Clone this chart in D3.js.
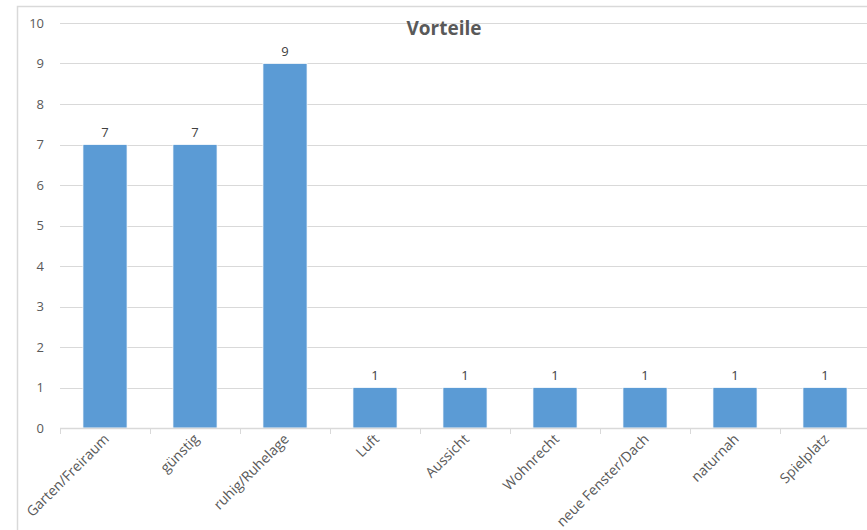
<!DOCTYPE html>
<html>
<head>
<meta charset="utf-8">
<script src="https://cdn.jsdelivr.net/npm/d3@7"></script>
<style>
body { margin:0; background:#fff; }
svg { display:block; font-family:"Open Sans", Calibri, sans-serif; }
</style>
</head>
<body>
<svg id="graph"></svg>
<script>
var categories = ["Garten/Freiraum","günstig","ruhig/Ruhelage","Luft","Aussicht","Wohnrecht","neue Fenster/Dach","naturnah","Spielplatz"];
var values = [7,7,9,1,1,1,1,1,1];
var yTicks = [0,1,2,3,4,5,6,7,8,9,10];
var title = "Vorteile";

var screen = {width:867, height:530};
var margins = {top:23, bottom:102, left:60, right:-3};
var graph = {
    width:screen.width-margins.left-margins.right,
    height:screen.height-margins.top-margins.bottom
};

var svg = d3.select("#graph")
    .attr("width",screen.width)
    .attr("height",screen.height);

// chart area frame (cropped on the right/bottom)
svg.append("path")
    .attr("d","M17.5,"+screen.height+"V6.5H"+screen.width)
    .attr("fill","none")
    .attr("stroke","#d9d9d9")
    .attr("stroke-width",1.5);

var xScale = d3.scaleBand()
    .domain(categories)
    .range([0,graph.width])
    .paddingInner(0.51)
    .paddingOuter(0.255);

var yScale = d3.scaleLinear()
    .domain([0,10])
    .range([graph.height,0]);

var g = svg.append("g")
    .attr("transform","translate("+margins.left+","+margins.top+")");

// gridlines
g.append("g")
    .selectAll("line")
    .data(yTicks.filter(function(t){return t>0;}))
    .enter()
    .append("line")
    .attr("x1",0)
    .attr("x2",graph.width)
    .attr("y1",function(t){return Math.round(yScale(t))+0.5;})
    .attr("y2",function(t){return Math.round(yScale(t))+0.5;})
    .attr("stroke","#d9d9d9")
    .attr("stroke-width",1);

// y labels
g.append("g")
    .selectAll("text")
    .data(yTicks)
    .enter()
    .append("text")
    .attr("x",-16)
    .attr("y",function(t){return yScale(t);})
    .attr("dy","0.35em")
    .attr("text-anchor","end")
    .attr("fill","#595959")
    .attr("font-size",13)
    .text(function(t){return t;});

// bars
g.append("g")
    .selectAll("rect")
    .data(values)
    .enter()
    .append("rect")
    .attr("x",function(v,i){return xScale(categories[i]);})
    .attr("y",function(v){return yScale(v);})
    .attr("width",xScale.bandwidth())
    .attr("height",function(v){return graph.height-yScale(v);})
    .attr("fill","#5b9bd5")
    .attr("stroke","#ffffff")
    .attr("stroke-width",0.75);

// data labels
g.append("g")
    .selectAll("text")
    .data(values)
    .enter()
    .append("text")
    .attr("x",function(v,i){return xScale(categories[i])+xScale.bandwidth()/2;})
    .attr("y",function(v){return yScale(v)-8;})
    .attr("text-anchor","middle")
    .attr("fill","#404040")
    .attr("font-size",13)
    .text(function(v){return v;});

// x axis line and ticks
var step = xScale.step();
var xAxis = g.append("g")
    .attr("transform","translate(0,"+graph.height+")");
xAxis.append("line")
    .attr("x1",0).attr("x2",graph.width)
    .attr("y1",0.5).attr("y2",0.5)
    .attr("stroke","#d9d9d9")
    .attr("stroke-width",1.5);
xAxis.selectAll("line.tick")
    .data(d3.range(categories.length+1))
    .enter()
    .append("line")
    .classed("tick",true)
    .attr("x1",function(i){return Math.round(i*step)+0.5;})
    .attr("x2",function(i){return Math.round(i*step)+0.5;})
    .attr("y1",0).attr("y2",6)
    .attr("stroke","#d9d9d9");

xAxis.selectAll("text")
    .data(categories)
    .enter()
    .append("text")
    .attr("transform",function(c){
        return "translate("+(xScale(c)+xScale.bandwidth()/2-2)+",5) rotate(-45)";
    })
    .attr("text-anchor","end")
    .attr("dy","0.7em")
    .attr("fill","#595959")
    .attr("font-size",14)
    .text(function(c){return c;});

// title
svg.append("text")
    .attr("x",444)
    .attr("y",35)
    .attr("text-anchor","middle")
    .attr("font-size",19)
    .attr("font-weight","bold")
    .attr("fill","#595959")
    .text(title);
</script>
</body>
</html>
